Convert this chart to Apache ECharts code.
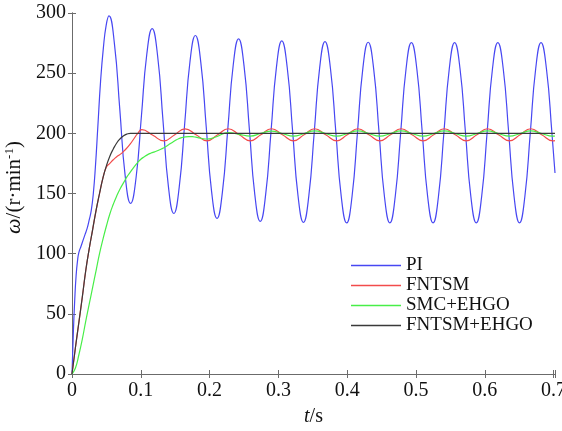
<!DOCTYPE html>
<html>
<head>
<meta charset="utf-8">
<script src="https://cdn.jsdelivr.net/npm/echarts@6/dist/echarts.min.js"></script>
<style>
  html, body { margin: 0; padding: 0; background: #ffffff; }
  #chart { width: 562px; height: 431px; }
</style>
</head>
<body>
<div id="chart"></div>
<script>
// Rotor speed response (r/min) of four controllers over time (s)
const seriesNames = ['PI', 'FNTSM', 'SMC+EHGO', 'FNTSM+EHGO'];
const seriesColors = ['#4747f2', '#f24b4b', '#48ee48', '#3a3a3a'];
const xTickValues = [0, 0.1, 0.2, 0.3, 0.4, 0.5, 0.6, 0.7];
const yTickValues = [0, 50, 100, 150, 200, 250, 300];

const piTime = [0, 0.002, 0.004, 0.006, 0.008, 0.010, 0.013, 0.016, 0.019, 0.022, 0.025, 0.028, 0.031, 0.034, 0.0375, 0.0415, 0.0456, 0.0497, 0.0537,
  0.0616, 0.0695, 0.0773, 0.0852, 0.0931, 0.1009, 0.1087, 0.1165,
  0.1244, 0.1323, 0.1401, 0.1480, 0.1558, 0.1637, 0.1715, 0.1793,
  0.1872, 0.1951, 0.2029, 0.2108, 0.2186, 0.2265, 0.2343, 0.2421,
  0.2500, 0.2579, 0.2657, 0.2736, 0.2814, 0.2893, 0.2971, 0.3049,
  0.3128, 0.3207, 0.3285, 0.3364, 0.3442, 0.3521, 0.3599, 0.3677,
  0.3756, 0.3835, 0.3913, 0.3992, 0.4070, 0.4149, 0.4227, 0.4305,
  0.4384, 0.4463, 0.4541, 0.4620, 0.4698, 0.4777, 0.4855, 0.4933,
  0.5012, 0.5091, 0.5169, 0.5248, 0.5326, 0.5405, 0.5483, 0.5561,
  0.5640, 0.5719, 0.5797, 0.5876, 0.5954, 0.6033, 0.6111, 0.6189,
  0.6268, 0.6347, 0.6425, 0.6504, 0.6582, 0.6661, 0.6739, 0.6817,
  0.6896, 0.6975, 0.7020];
const piSpeed = [0, 35, 62, 82, 94, 101, 106, 111, 116, 121, 128, 136, 150, 172, 205, 243, 271, 290, 297.6,
  274.8, 219.7, 164.6, 141.8, 163.1, 214.4, 265.7, 287.0,
  264.5, 210.2, 155.9, 133.4, 155.1, 207.4, 259.7, 281.3,
  259.0, 205.3, 151.6, 129.3, 151.2, 203.9, 256.6, 278.5,
  256.3, 202.7, 149.1, 126.8, 148.8, 201.8, 254.8, 276.8,
  254.7, 201.4, 148.1, 126.0, 148.0, 201.1, 254.2, 276.2,
  254.1, 200.9, 147.7, 125.6, 147.5, 200.7, 253.8, 275.7,
  253.8, 200.6, 147.5, 125.6, 147.5, 200.5, 253.5, 275.4,
  253.5, 200.5, 147.5, 125.6, 147.5, 200.5, 253.5, 275.4,
  253.5, 200.5, 147.5, 125.6, 147.5, 200.5, 253.5, 275.4,
  253.5, 200.5, 147.5, 125.6, 147.5, 200.5, 253.5, 275.4,
  253.5, 200.5, 167.0];

const fntsmTime = [0, 0.005, 0.010, 0.015, 0.020, 0.025, 0.030, 0.035, 0.040, 0.045, 0.050, 0.055, 0.060, 0.065, 0.070, 0.075, 0.080, 0.085, 0.090, 0.095, 0.1015,
  0.1175, 0.1335, 0.1489, 0.1643, 0.1803, 0.1963, 0.2117, 0.2271, 0.2431, 0.2591, 0.2745, 0.2899,
  0.3059, 0.3219, 0.3373, 0.3527, 0.3687, 0.3847, 0.4001, 0.4155, 0.4315, 0.4475, 0.4629, 0.4783,
  0.4943, 0.5103, 0.5257, 0.5411, 0.5571, 0.5731, 0.5885, 0.6039, 0.6199, 0.6359, 0.6513, 0.6667,
  0.6827, 0.6987, 0.7020];
const fntsmSpeed = [0, 22, 43, 64, 86, 104, 120, 136, 150, 163, 172, 175, 178, 180.5, 182.5, 185, 188, 191.5, 195.5, 199.5, 203.0,
  198.4, 193.7, 198.7, 203.7, 198.8, 193.8, 198.8, 203.8, 198.8, 193.8, 198.8, 203.8,
  198.8, 193.8, 198.8, 203.8, 198.8, 193.8, 198.8, 203.8, 198.8, 193.8, 198.8, 203.8,
  198.8, 193.8, 198.8, 203.8, 198.8, 193.8, 198.8, 203.8, 198.8, 193.8, 198.8, 203.8,
  198.8, 193.8, 194.0];

const smcTime = [0, 0.005, 0.010, 0.015, 0.020, 0.025, 0.030, 0.035, 0.040, 0.045, 0.050, 0.055, 0.060, 0.065, 0.070, 0.075, 0.080, 0.085, 0.090, 0.095,
  0.100, 0.105, 0.110, 0.115, 0.120, 0.125, 0.130, 0.135, 0.140, 0.145, 0.150, 0.155, 0.160, 0.165, 0.170, 0.175, 0.180, 0.185, 0.190, 0.1963, 0.203, 0.210,
  0.2271, 0.2431, 0.2591, 0.2745, 0.2899, 0.3059, 0.3219, 0.3373, 0.3527, 0.3687, 0.3847, 0.4001, 0.4155,
  0.4315, 0.4475, 0.4629, 0.4783, 0.4943, 0.5103, 0.5257, 0.5411, 0.5571, 0.5731, 0.5885, 0.6039,
  0.6199, 0.6359, 0.6513, 0.6667, 0.6827, 0.6987, 0.7020];
const smcSpeed = [0, 5, 16, 29, 44, 58, 72, 86, 100, 112, 123, 133, 141, 148, 154, 159, 164, 168, 172, 175.5,
  178.5, 180.5, 182.3, 183.6, 184.6, 185.7, 187, 188.5, 190.3, 192.2, 194, 195.5, 196.5, 197.1, 197.3, 197.2, 196.8, 196.2, 195.6, 195.3, 195.8, 197.2,
  200.6, 199.2, 197.7, 199.9, 201.9, 199.8, 197.6, 199.8, 202.0, 199.8, 197.6, 199.8, 202.0,
  199.8, 197.6, 199.8, 202.0, 199.8, 197.6, 199.8, 202.0, 199.8, 197.6, 199.8, 202.0,
  199.8, 197.6, 199.8, 202.0, 199.8, 197.6, 197.8];

const fntsmEhgoTime = [0, 0.005, 0.010, 0.015, 0.020, 0.025, 0.030, 0.035, 0.040, 0.045, 0.050, 0.055, 0.060, 0.065, 0.070, 0.075, 0.080, 0.085, 0.090, 0.200, 0.400, 0.7020];
const fntsmEhgoSpeed = [0, 22, 43, 64, 86, 104, 120, 136, 150, 163, 173, 181, 187, 192, 195.5, 198, 199.4, 200, 200, 200, 200, 200];

const zip = (t, v) => t.map((x, i) => [x, v[i]]);
const seriesData = [
  zip(piTime, piSpeed),
  zip(fntsmTime, fntsmSpeed),
  zip(smcTime, smcSpeed),
  zip(fntsmEhgoTime, fntsmEhgoSpeed)
];

const FONT = 'Liberation Serif';
const FRAME = '#6b6b6b';
const X_MAX = 0.702;

const onGrid = (v, step) => Math.abs(v / step - Math.round(v / step)) < 1e-6;

const chart = echarts.init(document.getElementById('chart'), null, { renderer: 'canvas' });

const xCommon = {
  type: 'value', min: 0, max: X_MAX, interval: 0.1,
  axisLine: { show: true, lineStyle: { color: FRAME, width: 1 } },
  axisTick: { show: true, inside: true, length: 4, lineStyle: { color: FRAME } },
  splitLine: { show: false }
};
const yCommon = {
  type: 'value', min: 0, max: 300, interval: 50,
  axisLine: { show: true, lineStyle: { color: FRAME, width: 1 } },
  axisTick: { show: true, inside: true, length: 4, lineStyle: { color: FRAME } },
  splitLine: { show: false }
};

chart.setOption({
  animation: false,
  backgroundColor: '#ffffff',
  textStyle: { fontFamily: FONT },
  grid: { left: 72, right: 7, top: 13, bottom: 57, containLabel: false, outerBoundsMode: 'none' },
  legend: {
    data: seriesNames,
    orient: 'vertical',
    left: 351,
    top: 256,
    padding: 0,
    icon: 'rect',
    itemWidth: 50,
    itemHeight: 1.3,
    itemGap: 1,
    textStyle: { fontFamily: FONT, fontSize: 19, color: '#111', lineHeight: 19 }
  },
  xAxis: [
    Object.assign({}, xCommon, {
      position: 'bottom',
      name: '{i|t}/s',
      nameLocation: 'middle',
      nameGap: 33,
      nameTextStyle: {
        fontFamily: FONT, fontSize: 20, color: '#111',
        rich: { i: { fontFamily: FONT, fontSize: 20, fontStyle: 'italic', color: '#111' } }
      },
      axisLabel: {
        show: true, margin: 7, fontFamily: FONT, fontSize: 20, color: '#111',
        formatter: v => (onGrid(v, 0.1) && xTickValues.some(t => Math.abs(t - v) < 1e-6)) ? (v === 0 ? '0' : v.toFixed(1)) : ''
      }
    }),
    Object.assign({}, xCommon, { position: 'top', axisLabel: { show: false } })
  ],
  yAxis: [
    Object.assign({}, yCommon, {
      position: 'left',
      name: '{i|ω}/(r·min{s|-1})',
      nameLocation: 'middle',
      nameGap: 43,
      nameRotate: 90,
      nameTextStyle: {
        fontFamily: FONT, fontSize: 21, color: '#111',
        padding: [0, 0, 0, 12],
        rich: {
          i: { fontFamily: FONT, fontSize: 22, fontStyle: 'italic', color: '#111' },
          s: { fontFamily: FONT, fontSize: 13, color: '#111', verticalAlign: 'top', lineHeight: 13 }
        }
      },
      axisLabel: {
        show: true, margin: 6, fontFamily: FONT, fontSize: 20, color: '#111',
        formatter: v => yTickValues.includes(v) ? String(v) : ''
      }
    }),
    Object.assign({}, yCommon, { position: 'right', axisLabel: { show: false } })
  ],
  series: seriesNames.map((name, i) => ({
    name: name,
    type: 'line',
    xAxisIndex: 0,
    yAxisIndex: 0,
    data: seriesData[i],
    symbol: 'none',
    smooth: true,
    clip: true,
    lineStyle: { color: seriesColors[i], width: 1.2 },
    itemStyle: { color: seriesColors[i] },
    z: 2 + i
  }))
});
</script>
</body>
</html>
